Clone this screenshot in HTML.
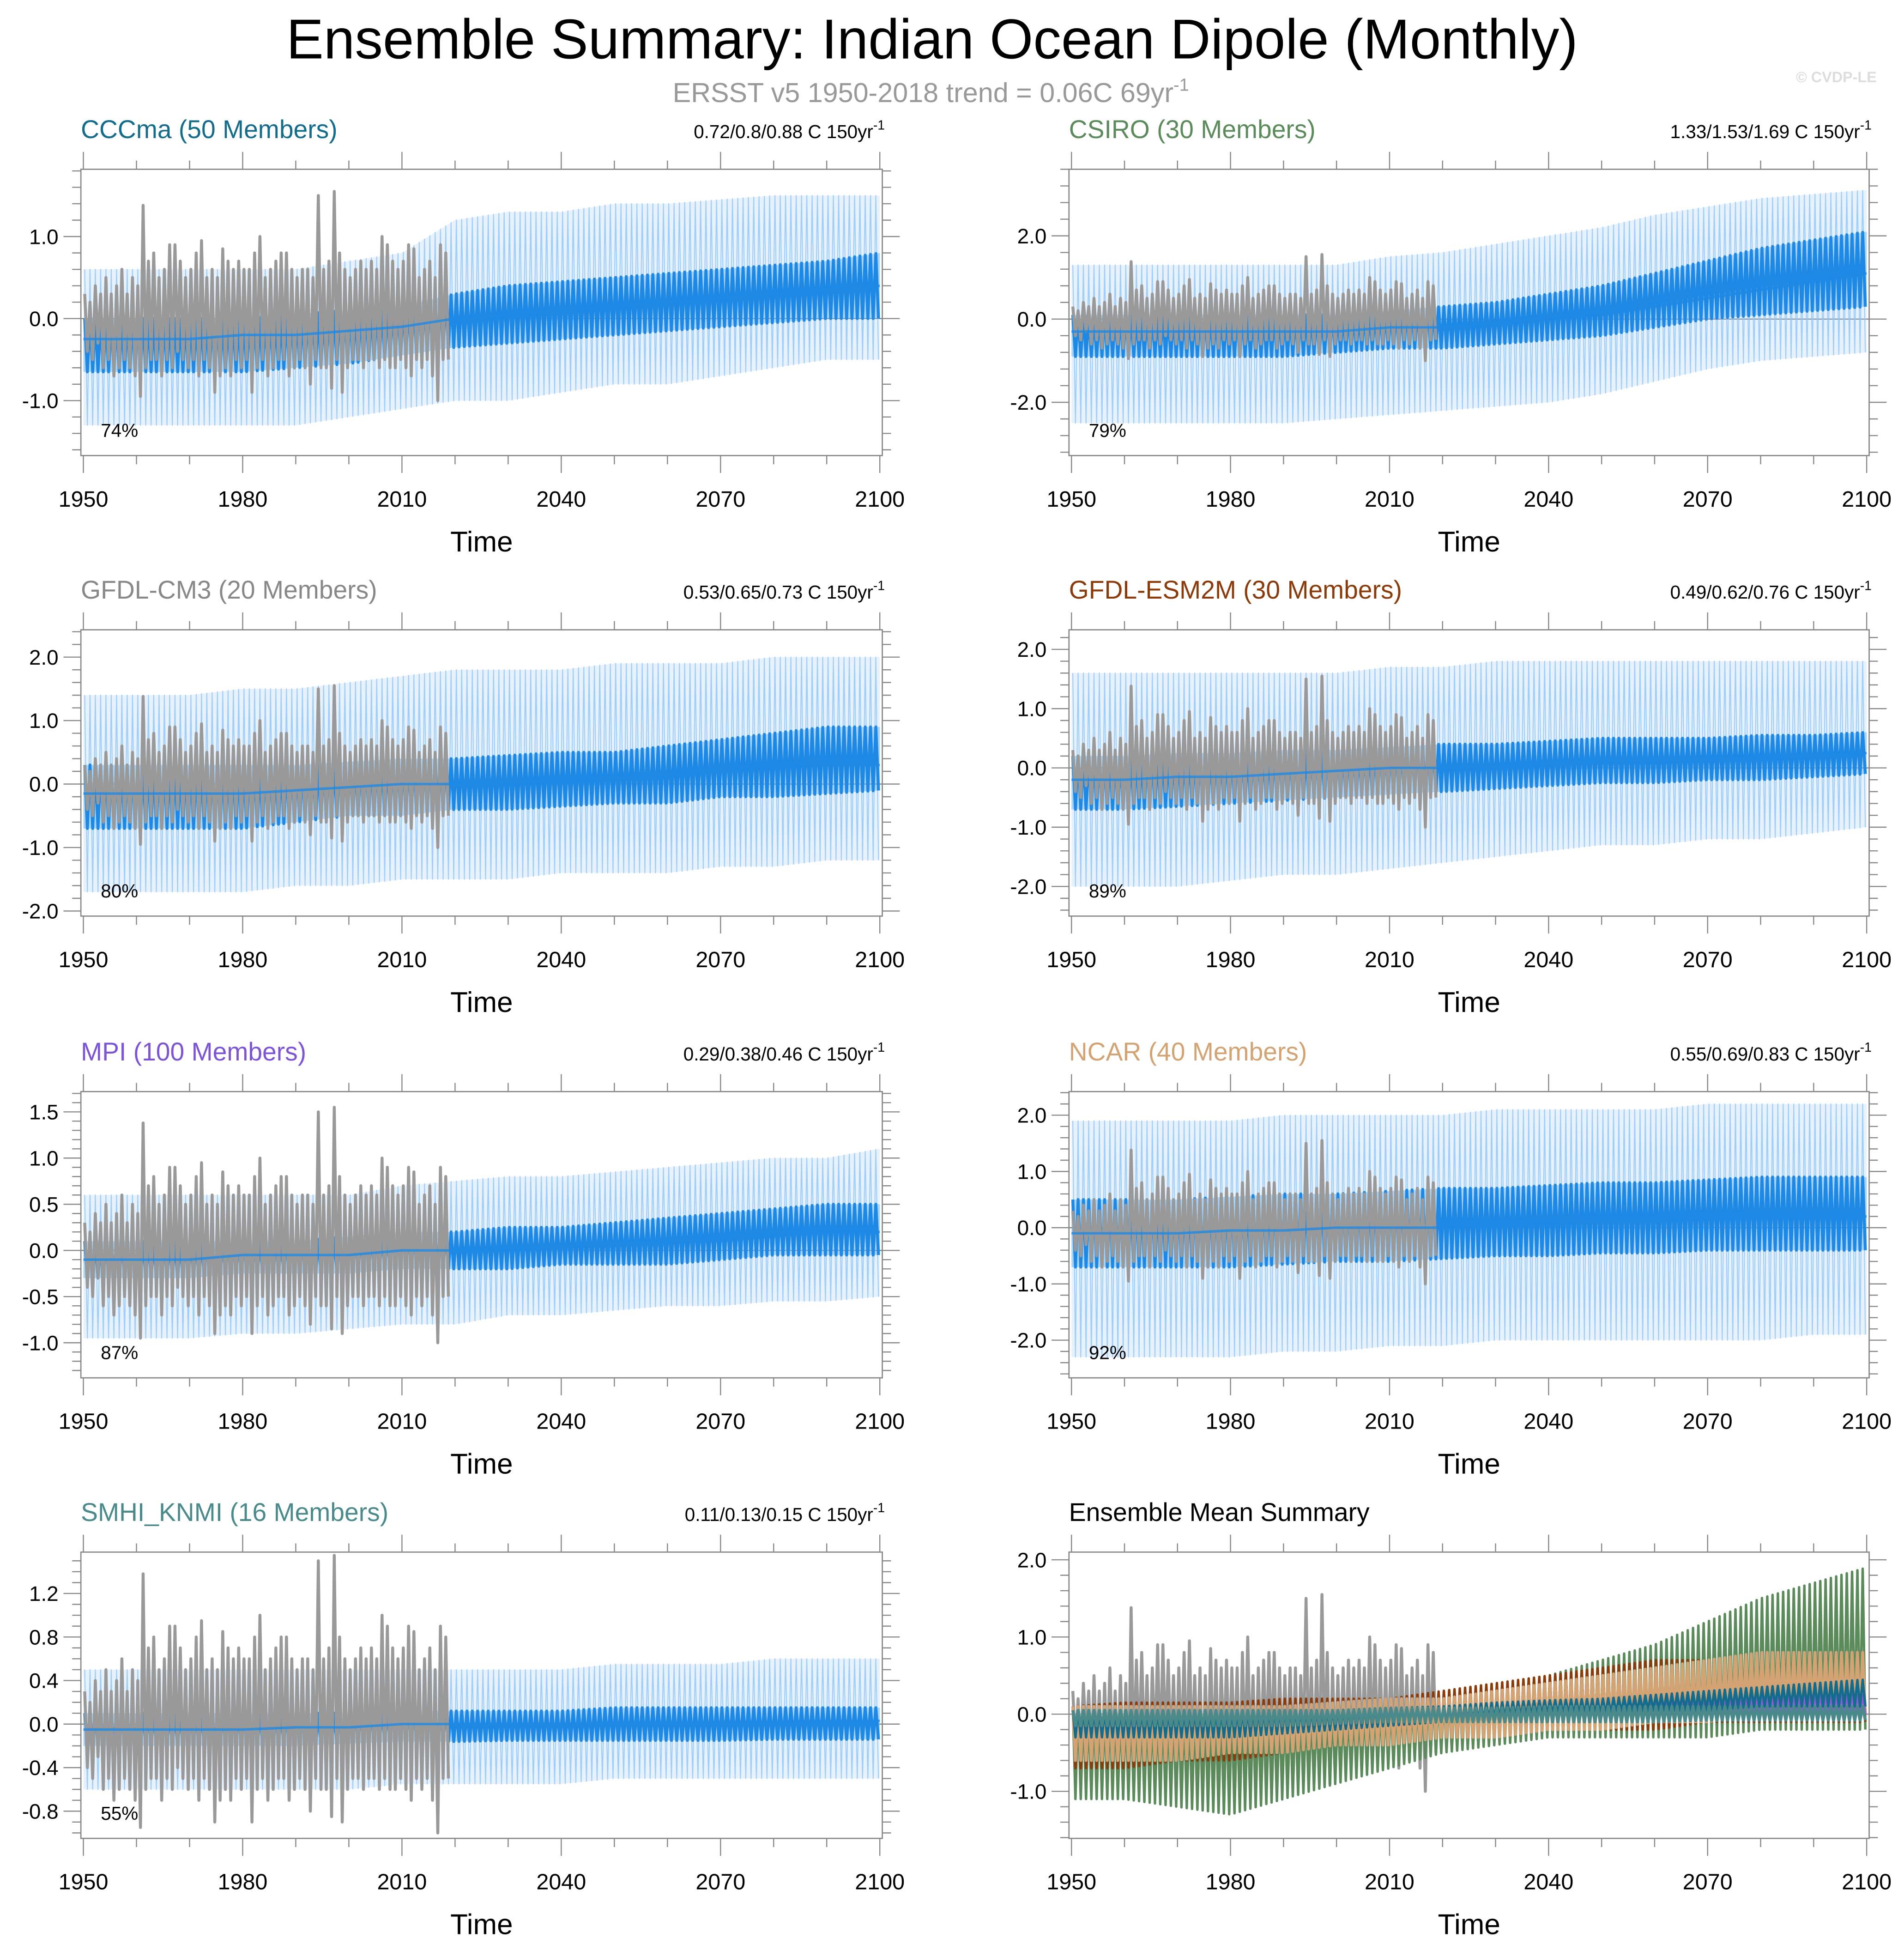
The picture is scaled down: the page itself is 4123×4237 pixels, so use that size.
<!DOCTYPE html>
<html><head><meta charset="utf-8"><title>Ensemble Summary: Indian Ocean Dipole (Monthly)</title>
<style>html,body{margin:0;padding:0;background:#fff}svg{display:block;font-family:"Liberation Sans",Arial,sans-serif}</style>
</head><body>
<svg id="chart" xmlns="http://www.w3.org/2000/svg" width="4123" height="4237" viewBox="0 0 1530 1572.3">
<rect x="0" y="0" width="1530" height="1573" fill="#fff"/>
<text x="749" y="47" font-size="45" text-anchor="middle" fill="#000">Ensemble Summary: Indian Ocean Dipole (Monthly)</text>
<text x="748" y="82" font-size="22" text-anchor="middle" fill="#999">ERSST v5 1950-2018 trend = 0.06C 69yr<tspan font-size="14" dy="-9">-1</tspan></text>
<text x="1508" y="66" font-size="12" text-anchor="end" fill="#ddd" font-weight="bold">© CVDP-LE</text>
<g id="panels"></g>
</svg>
<script>
const decades=[1950,1960,1970,1980,1990,2000,2010,2020,2030,2040,2050,2060,2070,2080,2090,2100];
const obsHi=[0.3,0.2,0.4,0.3,0.5,0.3,0.4,0.6,0.3,0.5,0.4,1.38,0.7,0.8,0.5,0.6,0.9,0.9,0.7,0.5,0.6,0.8,0.95,0.5,0.6,0.5,0.85,0.7,0.6,0.7,0.6,0.6,0.8,1.0,0.5,0.6,0.7,0.8,0.8,0.6,0.5,0.6,0.6,0.5,1.5,0.6,0.7,1.55,0.8,0.6,0.5,0.6,0.7,0.6,0.7,0.6,1.0,0.9,0.7,0.6,0.7,0.9,0.85,0.5,0.6,0.7,0.5,0.9,0.8];
const obsLo=[-0.4,-0.5,-0.3,-0.6,-0.5,-0.7,-0.6,-0.5,-0.6,-0.7,-0.95,-0.6,-0.5,-0.5,-0.7,-0.5,-0.6,-0.4,-0.5,-0.6,-0.5,-0.7,-0.5,-0.6,-0.9,-0.7,-0.6,-0.7,-0.5,-0.6,-0.5,-0.9,-0.6,-0.5,-0.7,-0.6,-0.5,-0.5,-0.7,-0.6,-0.5,-0.6,-0.8,-0.5,-0.6,-0.6,-0.85,-0.5,-0.9,-0.6,-0.5,-0.5,-0.6,-0.5,-0.5,-0.6,-0.5,-0.6,-0.6,-0.5,-0.6,-0.7,-0.5,-0.6,-0.5,-0.7,-1.0,-0.5,-0.5];

const cccmaMean=[-0.25,-0.25,-0.25,-0.2,-0.2,-0.15,-0.1,0,0.05,0.1,0.15,0.2,0.25,0.3,0.35,0.4];
const cccmaInHi=[0.0,0.0,0.0,0.0,0.05,0.1,0.15,0.3,0.4,0.45,0.5,0.55,0.6,0.65,0.7,0.8];
const cccmaInLo=[-0.65,-0.65,-0.65,-0.65,-0.6,-0.55,-0.45,-0.35,-0.3,-0.25,-0.2,-0.15,-0.1,-0.05,0,0];
const cccmaOutHi=[0.6,0.6,0.6,0.6,0.6,0.7,0.8,1.2,1.3,1.3,1.4,1.4,1.45,1.5,1.5,1.5];
const cccmaOutLo=[-1.3,-1.3,-1.3,-1.3,-1.3,-1.2,-1.1,-1.0,-1.0,-0.9,-0.8,-0.8,-0.7,-0.6,-0.5,-0.5];

const csiroMean=[-0.3,-0.3,-0.3,-0.3,-0.3,-0.3,-0.2,-0.2,-0.1,0,0.1,0.3,0.5,0.7,0.9,1.1];
const csiroInHi=[0.1,0.1,0.1,0.1,0.1,0.1,0.2,0.3,0.4,0.6,0.8,1.1,1.4,1.7,1.9,2.1];
const csiroInLo=[-0.9,-0.9,-0.9,-0.9,-0.9,-0.8,-0.7,-0.7,-0.6,-0.5,-0.4,-0.2,0,0.1,0.2,0.3];
const csiroOutHi=[1.3,1.3,1.3,1.3,1.3,1.3,1.5,1.6,1.8,2.0,2.2,2.5,2.7,2.9,3.0,3.1];
const csiroOutLo=[-2.5,-2.5,-2.5,-2.5,-2.5,-2.4,-2.3,-2.2,-2.1,-2.0,-1.8,-1.5,-1.2,-1.0,-0.9,-0.8];

const cm3Mean=[-0.15,-0.15,-0.15,-0.15,-0.1,-0.05,0,0,0.05,0.1,0.1,0.15,0.2,0.25,0.3,0.3];
const cm3InHi=[0.3,0.3,0.3,0.3,0.3,0.35,0.4,0.4,0.45,0.5,0.5,0.6,0.7,0.8,0.9,0.9];
const cm3InLo=[-0.7,-0.7,-0.7,-0.7,-0.6,-0.5,-0.5,-0.4,-0.4,-0.35,-0.3,-0.3,-0.2,-0.2,-0.15,-0.1];
const cm3OutHi=[1.4,1.4,1.4,1.5,1.5,1.6,1.7,1.8,1.8,1.8,1.9,1.9,1.9,2.0,2.0,2.0];
const cm3OutLo=[-1.7,-1.7,-1.7,-1.7,-1.6,-1.6,-1.5,-1.5,-1.5,-1.4,-1.4,-1.4,-1.3,-1.3,-1.2,-1.2];

const esmMean=[-0.2,-0.2,-0.15,-0.15,-0.1,-0.05,0,0,0.05,0.1,0.15,0.15,0.2,0.2,0.2,0.25];
const esmInHi=[0.2,0.2,0.25,0.25,0.3,0.3,0.35,0.4,0.4,0.45,0.5,0.5,0.5,0.55,0.55,0.6];
const esmInLo=[-0.7,-0.7,-0.65,-0.6,-0.55,-0.5,-0.45,-0.4,-0.35,-0.3,-0.25,-0.25,-0.2,-0.2,-0.15,-0.1];
const esmOutHi=[1.6,1.6,1.6,1.6,1.6,1.6,1.7,1.7,1.8,1.8,1.8,1.8,1.8,1.8,1.8,1.8];
const esmOutLo=[-2.0,-2.0,-2.0,-1.9,-1.8,-1.8,-1.7,-1.6,-1.5,-1.4,-1.3,-1.3,-1.2,-1.2,-1.1,-1.0];

const mpiMean=[-0.1,-0.1,-0.1,-0.05,-0.05,-0.05,0,0,0,0.05,0.05,0.1,0.1,0.15,0.2,0.2];
const mpiInHi=[0.1,0.1,0.1,0.1,0.1,0.15,0.2,0.2,0.25,0.25,0.3,0.35,0.4,0.45,0.5,0.5];
const mpiInLo=[-0.3,-0.3,-0.3,-0.25,-0.25,-0.25,-0.2,-0.2,-0.2,-0.15,-0.15,-0.15,-0.1,-0.05,-0.05,-0.05];
const mpiOutHi=[0.6,0.6,0.6,0.6,0.6,0.6,0.7,0.75,0.8,0.8,0.85,0.9,0.95,1.0,1.0,1.1];
const mpiOutLo=[-0.95,-0.95,-0.95,-0.9,-0.9,-0.85,-0.8,-0.8,-0.7,-0.7,-0.65,-0.6,-0.6,-0.55,-0.55,-0.5];

const ncarMean=[-0.1,-0.1,-0.1,-0.05,-0.05,0,0,0,0.05,0.1,0.1,0.15,0.15,0.2,0.2,0.2];
const ncarInHi=[0.5,0.5,0.5,0.55,0.6,0.6,0.65,0.7,0.7,0.75,0.8,0.8,0.85,0.9,0.9,0.9];
const ncarInLo=[-0.7,-0.7,-0.7,-0.7,-0.65,-0.6,-0.6,-0.55,-0.5,-0.5,-0.45,-0.45,-0.4,-0.4,-0.4,-0.4];
const ncarOutHi=[1.9,1.9,1.9,1.9,2.0,2.0,2.0,2.0,2.1,2.1,2.1,2.1,2.2,2.2,2.2,2.2];
const ncarOutLo=[-2.3,-2.3,-2.3,-2.3,-2.2,-2.2,-2.1,-2.1,-2.0,-2.0,-2.0,-2.0,-2.0,-2.0,-1.9,-1.9];

const smhiMean=[-0.05,-0.05,-0.05,-0.05,-0.03,-0.03,0,0,0,0,0,0,0.02,0.02,0.03,0.03];
const smhiInHi=[0.1,0.1,0.1,0.1,0.1,0.1,0.12,0.12,0.12,0.12,0.15,0.15,0.15,0.15,0.15,0.15];
const smhiInLo=[-0.2,-0.2,-0.2,-0.2,-0.2,-0.18,-0.16,-0.16,-0.15,-0.15,-0.15,-0.15,-0.15,-0.14,-0.14,-0.14];
const smhiOutHi=[0.5,0.5,0.5,0.5,0.5,0.5,0.5,0.5,0.5,0.5,0.55,0.55,0.55,0.6,0.6,0.6];
const smhiOutLo=[-0.6,-0.6,-0.6,-0.6,-0.6,-0.6,-0.55,-0.55,-0.55,-0.55,-0.5,-0.5,-0.5,-0.5,-0.5,-0.5];

const emCsiroHi=[0.1,0.1,0.1,0.1,0.1,0.1,0.15,0.2,0.3,0.5,0.7,0.9,1.2,1.5,1.7,1.9];
const emCsiroLo=[-1.1,-1.1,-1.2,-1.3,-1.1,-0.9,-0.7,-0.5,-0.4,-0.3,-0.3,-0.3,-0.3,-0.2,-0.2,-0.2];
const emEsmHi=[0.1,0.15,0.15,0.15,0.2,0.2,0.2,0.3,0.4,0.5,0.6,0.7,0.7,0.7,0.7,0.7];
const emEsmLo=[-0.7,-0.7,-0.6,-0.6,-0.5,-0.4,-0.4,-0.3,-0.3,-0.2,-0.2,-0.2,-0.1,-0.1,-0.1,-0.1];
const emNcarHi=[0.1,0.1,0.1,0.1,0.1,0.15,0.2,0.2,0.3,0.4,0.5,0.6,0.7,0.8,0.8,0.8];
const emNcarLo=[-0.6,-0.6,-0.6,-0.5,-0.5,-0.4,-0.4,-0.3,-0.3,-0.2,-0.2,-0.1,-0.1,0,0,0];
const emMpiHi=[0.05,0.05,0.05,0.05,0.05,0.05,0.08,0.1,0.1,0.12,0.15,0.18,0.2,0.22,0.25,0.25];
const emMpiLo=[-0.2,-0.2,-0.2,-0.15,-0.15,-0.12,-0.1,-0.1,-0.08,-0.05,-0.05,0,0,0,0,0];
const emCccmaHi=[0.05,0.05,0.05,0.05,0.05,0.05,0.08,0.1,0.15,0.18,0.2,0.25,0.3,0.35,0.4,0.45];
const emCccmaLo=[-0.3,-0.3,-0.3,-0.3,-0.25,-0.2,-0.15,-0.1,-0.05,0,0,0.05,0.05,0.1,0.1,0.1];
const emSmhiHi=[0.05,0.05,0.05,0.05,0.05,0.05,0.08,0.08,0.08,0.1,0.1,0.1,0.1,0.1,0.1,0.1];
const emSmhiLo=[-0.15,-0.15,-0.15,-0.15,-0.15,-0.12,-0.1,-0.1,-0.1,-0.1,-0.1,-0.1,-0.08,-0.08,-0.08,-0.08];

const NS='http://www.w3.org/2000/svg';
const root=document.getElementById('panels');
function mk(tag,attrs,parent){const e=document.createElementNS(NS,tag);for(const k in attrs)e.setAttribute(k,attrs[k]);(parent||root).appendChild(e);return e;}

const panels=[
 {title:'CCCma (50 Members)',color:'#146c8c',stat:'0.72/0.8/0.88 C 150yr',pct:'74%',col:0,row:0,ymin:-1.67,ymax:1.82,maj:1,minr:0.2,d:[cccmaMean,cccmaInHi,cccmaInLo,cccmaOutHi,cccmaOutLo],key:'cccma'},
 {title:'CSIRO (30 Members)',color:'#5b8a5b',stat:'1.33/1.53/1.69 C 150yr',pct:'79%',col:1,row:0,ymin:-3.28,ymax:3.6,maj:2,minr:0.4,d:[csiroMean,csiroInHi,csiroInLo,csiroOutHi,csiroOutLo],key:'csiro'},
 {title:'GFDL-CM3 (20 Members)',color:'#888888',stat:'0.53/0.65/0.73 C 150yr',pct:'80%',col:0,row:1,ymin:-2.08,ymax:2.43,maj:1,minr:0.2,d:[cm3Mean,cm3InHi,cm3InLo,cm3OutHi,cm3OutLo],key:'gfdl-cm3'},
 {title:'GFDL-ESM2M (30 Members)',color:'#8b3a0a',stat:'0.49/0.62/0.76 C 150yr',pct:'89%',col:1,row:1,ymin:-2.5,ymax:2.33,maj:1,minr:0.2,d:[esmMean,esmInHi,esmInLo,esmOutHi,esmOutLo],key:'gfdl-esm2m'},
 {title:'MPI (100 Members)',color:'#7b55d6',stat:'0.29/0.38/0.46 C 150yr',pct:'87%',col:0,row:2,ymin:-1.38,ymax:1.72,maj:0.5,minr:0.1,d:[mpiMean,mpiInHi,mpiInLo,mpiOutHi,mpiOutLo],key:'mpi'},
 {title:'NCAR (40 Members)',color:'#d4a373',stat:'0.55/0.69/0.83 C 150yr',pct:'92%',col:1,row:2,ymin:-2.67,ymax:2.42,maj:1,minr:0.2,d:[ncarMean,ncarInHi,ncarInLo,ncarOutHi,ncarOutLo],key:'ncar'},
 {title:'SMHI_KNMI (16 Members)',color:'#4a8a8a',stat:'0.11/0.13/0.15 C 150yr',pct:'55%',col:0,row:3,ymin:-1.05,ymax:1.58,maj:0.4,minr:0.1,d:[smhiMean,smhiInHi,smhiInLo,smhiOutHi,smhiOutLo],key:'smhi-knmi'},
 {title:'Ensemble Mean Summary',color:'#000000',stat:'',pct:'',col:1,row:3,ymin:-1.61,ymax:2.1,maj:1,minr:0.2,em:true,key:'ensemble-mean'}
];
const colX=[[67,707],[861,1500]];
const rowY=[136,506,877,1247];
const BH=230;

function interp(arr,yr){
  const f=(yr-1950)/10;let i=Math.floor(f);if(i>=arr.length-1)return arr[arr.length-1];if(i<0)return arr[0];
  const t=f-i;return arr[i]*(1-t)+arr[i+1]*t;
}
function band(g,xs,ys,hi,lo,fill,op,name){
  let pts=[];
  decades.forEach((y,i)=>pts.push(xs(y).toFixed(2)+','+ys(hi[i]).toFixed(2)));
  for(let i=decades.length-1;i>=0;i--)pts.push(xs(decades[i]).toFixed(2)+','+ys(lo[i]).toFixed(2));
  const p=mk('polygon',{points:pts.join(' '),fill:fill,'fill-opacity':op},g);
  
  
}
function zig(g,xs,ys,hi,lo,color,w,op,name){
  let pts=[];
  for(let yr=1950;yr<2100;yr+=1){
    pts.push(xs(yr+0.25).toFixed(2)+','+ys(interp(hi,yr+0.25)).toFixed(2));
    pts.push(xs(yr+0.75).toFixed(2)+','+ys(interp(lo,yr+0.75)).toFixed(2));
  }
  const p=mk('polyline',{points:pts.join(' '),fill:'none',stroke:color,'stroke-width':w,'stroke-opacity':op,'stroke-linejoin':'round'},g);
  
  
}
function obs(g,xs,ys){
  let pts=[];
  obsHi.forEach((v,i)=>{pts.push(xs(1950+i+0.25).toFixed(2)+','+ys(v).toFixed(2));pts.push(xs(1950+i+0.75).toFixed(2)+','+ys(obsLo[i]).toFixed(2));});
  const p=mk('polyline',{points:pts.join(' '),fill:'none',stroke:'#999','stroke-width':2.4,'stroke-linejoin':'round'},g);
  
  
}

panels.forEach(P=>{
  const x0=colX[P.col][0],x1=colX[P.col][1],top=rowY[P.row],bot=top+BH;
  const bl=x0-2,br=x1+2;
  const xs=yr=>x0+(yr-1950)/150*(x1-x0);
  const ys=v=>bot-(v-P.ymin)/(P.ymax-P.ymin)*BH;
  const g=mk('g',{});
  
  
  const t=mk('text',{x:x0-2,y:top-25,'font-size':20.5,fill:P.color},g);
  t.textContent=P.title;
  
  
  if(P.stat){
    const s=mk('text',{x:x1+4,y:top-25,'font-size':15,'text-anchor':'end',fill:'#000'},g);
    
    
    s.textContent=P.stat;
    const sup=mk('tspan',{'font-size':10.5,dy:-7},s);sup.textContent='-1';
  }
  const clip='clip-'+P.key;
  const cp=mk('clipPath',{id:clip},g);mk('rect',{x:bl,y:top,width:br-bl,height:BH},cp);
  const dg=mk('g',{'clip-path':'url(#'+clip+')'},g);
  
  
  const z=mk('line',{x1:bl,x2:br,y1:ys(0),y2:ys(0),stroke:'#777','stroke-width':0.8},dg);
  
  
  if(!P.em){
    band(dg,xs,ys,P.d[3],P.d[4],'#9fcdf8',0.25,'ensemble-range-band');
    zig(dg,xs,ys,P.d[3],P.d[4],'#8cc4f8',0.8,0.8,'ensemble-range-spikes');
    band(dg,xs,ys,P.d[1],P.d[2],'#5aaef5',0.45,'ensemble-inner-band');
    zig(dg,xs,ys,P.d[1],P.d[2],'#1e88e5',2.4,1,'ensemble-mean-oscillation');
    obs(dg,xs,ys);
    const mpts=decades.map((y,i)=>xs(y).toFixed(2)+','+ys(P.d[0][i]).toFixed(2)).join(' ');
    const ml=mk('polyline',{points:mpts,fill:'none',stroke:'#1e88e5','stroke-width':2,'stroke-opacity':0.8},dg);
    
    
  } else {
    obs(dg,xs,ys);
    zig(dg,xs,ys,emCsiroHi,emCsiroLo,'#5b8a5b',2,1,'csiro-mean-line');
    zig(dg,xs,ys,emEsmHi,emEsmLo,'#8b3a0a',2,1,'gfdl-esm2m-mean-line');
    zig(dg,xs,ys,emNcarHi,emNcarLo,'#d4a373',2.4,1,'ncar-mean-line');
    zig(dg,xs,ys,emMpiHi,emMpiLo,'#8a5fd6',2,1,'mpi-mean-line');
    zig(dg,xs,ys,emCccmaHi,emCccmaLo,'#146c8c',2,1,'cccma-mean-line');
    zig(dg,xs,ys,emSmhiHi,emSmhiLo,'#4a8a8a',2.4,1,'smhi-knmi-mean-line');
  }
  const fr=mk('rect',{x:bl,y:top,width:br-bl,height:BH,fill:'none',stroke:'#888','stroke-width':1},g);
  
  
  for(let yr=1950;yr<=2100;yr+=10){
    const x=xs(yr),major=(yr-1950)%30===0,L=major?14:7;
    mk('line',{x1:x,x2:x,y1:bot,y2:bot+L,stroke:'#888','stroke-width':0.9},g);
    mk('line',{x1:x,x2:x,y1:top,y2:top-L,stroke:'#888','stroke-width':0.9},g);
    if(major){
      const lt=mk('text',{x:x,y:bot+41,'font-size':18,'text-anchor':'middle',fill:'#000'},g);
      lt.textContent=yr;
      
      
    }
  }
  const xt=mk('text',{x:(x0+x1)/2,y:bot+77,'font-size':23,'text-anchor':'middle',fill:'#000'},g);
  xt.textContent='Time';
  
  
  const n0=Math.ceil(P.ymin/P.minr-1e-6),n1=Math.floor(P.ymax/P.minr+1e-6);
  for(let n=n0;n<=n1;n++){
    const v=n*P.minr,y=ys(v);
    const major=Math.abs(v/P.maj-Math.round(v/P.maj))<1e-6;
    const L=major?14:7;
    mk('line',{x1:bl,x2:bl-L,y1:y,y2:y,stroke:'#888','stroke-width':0.9},g);
    mk('line',{x1:br,x2:br+L,y1:y,y2:y,stroke:'#888','stroke-width':0.9},g);
    if(major){
      const lt=mk('text',{x:bl-18,y:y+6,'font-size':17,'text-anchor':'end',fill:'#000'},g);
      lt.textContent=(Math.abs(v)<1e-9?0:v).toFixed(1);
      
      
    }
  }
  if(P.pct){
    const pt=mk('text',{x:x0+14,y:bot-15,'font-size':15,fill:'#000'},g);
    pt.textContent=P.pct;
    
    
  }
});
</script>
</body></html>
